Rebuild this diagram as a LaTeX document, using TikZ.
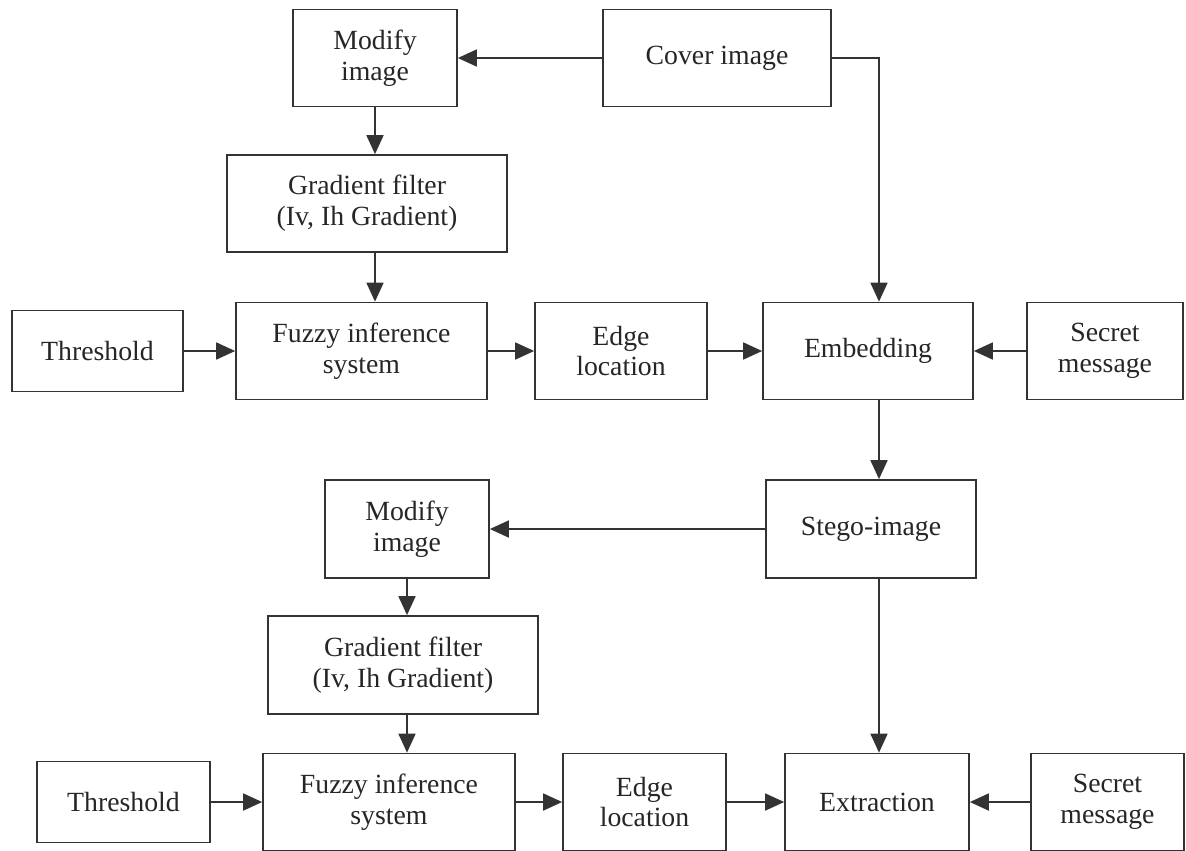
\documentclass[tikz,border=0pt]{standalone}
\usepackage{fontspec}
\setmainfont{Liberation Serif}
\usetikzlibrary{arrows.meta}
\begin{document}
\begin{tikzpicture}[x=0.02cm, y=-0.02cm,
    every node/.style={font=\fontsize{15.8}{17.5}\selectfont, text=black!85},
    box/.style 2 args={draw=black!80, line width=1pt, align=center, inner sep=2pt,
      minimum width=#1cm, minimum height=#2cm},
    arr/.style={draw=black!80, line width=1pt, -{Triangle[length=0.38cm,width=0.34cm]}}]
  \useasboundingbox (0,0) rectangle (1186,850);
  % embedding side
  \node[box={3.28}{1.94}] (mod1) at (375,58) {Modify\\image};
  \node[box={4.56}{1.94}] (cover) at (717,58) {Cover image};
  \node[box={5.6}{1.94}] (grad1) at (367,203.5) {Gradient filter\\(Iv, Ih Gradient)};
  \node[box={3.42}{1.62}] (thr1) at (97.5,351) {Threshold};
  \node[box={5.02}{1.94}] (fuzzy1) at (361.5,351) {Fuzzy inference\\system};
  \node[box={3.44}{1.94}] (edge1) at (621,351) {Edge\\location};
  \node[box={4.2}{1.94}] (embed) at (868,351) {Embedding};
  \node[box={3.12}{1.94}] (sec1) at (1105,351) {Secret\\message};
  % extraction side
  \node[box={4.2}{1.96}] (stego) at (871,529) {Stego-image};
  \node[box={3.28}{1.96}] (mod2) at (407,529) {Modify\\image};
  \node[box={5.4}{1.96}] (grad2) at (403,665) {Gradient filter\\(Iv, Ih Gradient)};
  \node[box={3.46}{1.62}] (thr2) at (123.5,802) {Threshold};
  \node[box={5.04}{1.94}] (fuzzy2) at (389,802) {Fuzzy inference\\system};
  \node[box={3.26}{1.94}] (edge2) at (644.5,802) {Edge\\location};
  \node[box={3.68}{1.94}] (extr) at (877,802) {Extraction};
  \node[box={3.06}{1.94}] (sec2) at (1107.5,802) {Secret\\message};
  \coordinate (spine) at (879,0);

  \foreach \a/\b in {cover/mod1, thr1/fuzzy1, fuzzy1/edge1, edge1/embed, sec1/embed,
                     stego/mod2, thr2/fuzzy2, fuzzy2/edge2, edge2/extr, sec2/extr}
    \draw[arr] (\a) -- (\b);
  \draw[arr] (mod1.south) -- (mod1.south |- grad1.north);
  \draw[arr] (mod1.south |- grad1.south) -- (mod1.south |- fuzzy1.north);
  \draw[arr] (mod2.south) -- (mod2.south |- grad2.north);
  \draw[arr] (mod2.south |- grad2.south) -- (mod2.south |- fuzzy2.north);
  \draw[arr] (cover.east) -| (spine |- embed.north);
  \draw[arr] (spine |- embed.south) -- (spine |- stego.north);
  \draw[arr] (spine |- stego.south) -- (spine |- extr.north);
\end{tikzpicture}
\end{document}
